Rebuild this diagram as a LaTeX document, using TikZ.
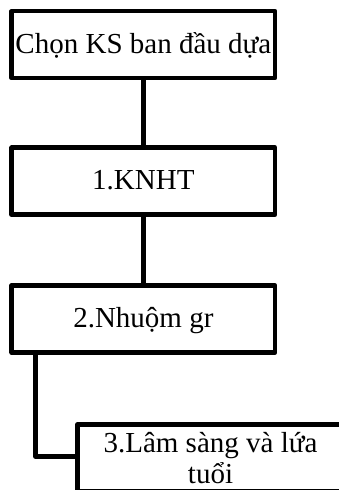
\documentclass[tikz,border=0pt]{standalone}
\usepackage{fontspec}
\setmainfont{Liberation Serif}
\usetikzlibrary{calc}
\begin{document}
\begin{tikzpicture}[x=1pt,y=-1pt,
  box/.style={draw=black, line width=4.5pt, line join=round, inner sep=0pt,
    minimum width=263.3pt, minimum height=67pt,
    font=\fontsize{29}{29}\selectfont, text height=21pt, text depth=4pt},
  link/.style={draw=black, line width=4.5pt, line join=round}]
  \useasboundingbox (0,0) rectangle (339,490);
  % stacked boxes of the flow
  \node[box] (b1) at (143.35,44.6)  {Chọn KS ban đầu dựa};
  \node[box] (b2) at (143.35,181.2) {1.KNHT};
  \node[box] (b3) at (143.35,319)   {2.Nhuộm gr};
  \node[box, minimum width=266pt, align=center, text height=, text depth=,
    font=\fontsize{29}{31}\selectfont]
    (b4) at (210.5,458) {3.Lâm sàng và lứa\\tuổi};
  % connectors
  \draw[link] (b1.south) -- (b2.north);
  \draw[link] (b2.south) -- (b3.north);
  \draw[link] ($(b3.south west)+(26,-1)$) |- ($(b4.west)+(0,-1.5)$);
\end{tikzpicture}
\end{document}
